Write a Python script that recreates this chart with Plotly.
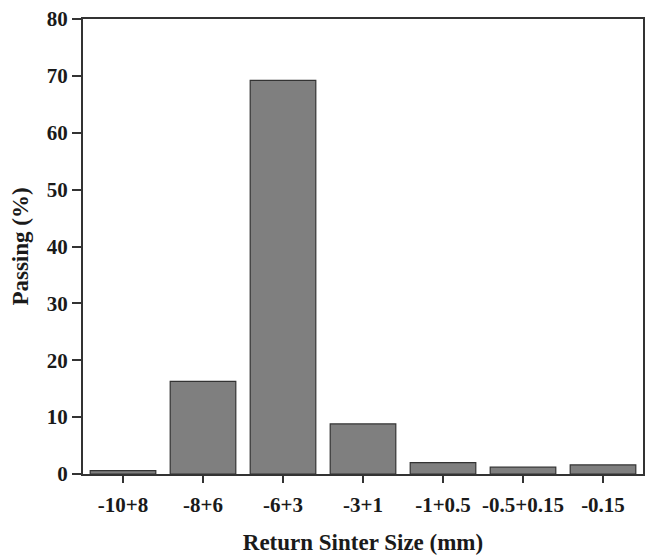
import plotly.graph_objects as go

categories = ["-10+8", "-8+6", "-6+3", "-3+1", "-1+0.5", "-0.5+0.15", "-0.15"]
passing = [0.6, 16.3, 69.2, 8.8, 2.0, 1.2, 1.6]
y_ticks = [0, 10, 20, 30, 40, 50, 60, 70, 80]

font_family = "Liberation Serif, Times New Roman, serif"

fig = go.Figure(go.Bar(
    x=categories, y=passing,
    marker=dict(color="#7f7f7f", line=dict(color="#333333", width=1.2)),
))

fig.update_layout(
    width=649, height=556,
    margin=dict(l=83, r=4, t=19, b=82),
    paper_bgcolor="white", plot_bgcolor="white",
    bargap=0.18,
    showlegend=False,
    font=dict(family=font_family, color="#1a1a1a"),
)
fig.update_xaxes(
    range=[-0.5, 6.5],
    showline=True, linecolor="#333333", linewidth=2, mirror=True,
    ticks="outside", ticklen=7, tickwidth=1.5, tickcolor="#333333",
    ticklabelstandoff=4,
    tickfont=dict(family=font_family, size=21, color="#1a1a1a", weight="bold"),
    title=dict(text="<b>Return Sinter Size (mm)</b>", font=dict(size=23), standoff=18),
    showgrid=False,
)
fig.update_yaxes(
    range=[0, 80], tickvals=y_ticks,
    showline=True, linecolor="#333333", linewidth=2, mirror=True,
    ticks="outside", ticklen=9, tickwidth=1.5, tickcolor="#333333",
    tickfont=dict(family=font_family, size=21, color="#1a1a1a", weight="bold"),
    title=dict(text="<b>Passing (%)</b>", font=dict(size=23), standoff=12),
    showgrid=False, zeroline=False,
)

fig.write_html("out.html")
